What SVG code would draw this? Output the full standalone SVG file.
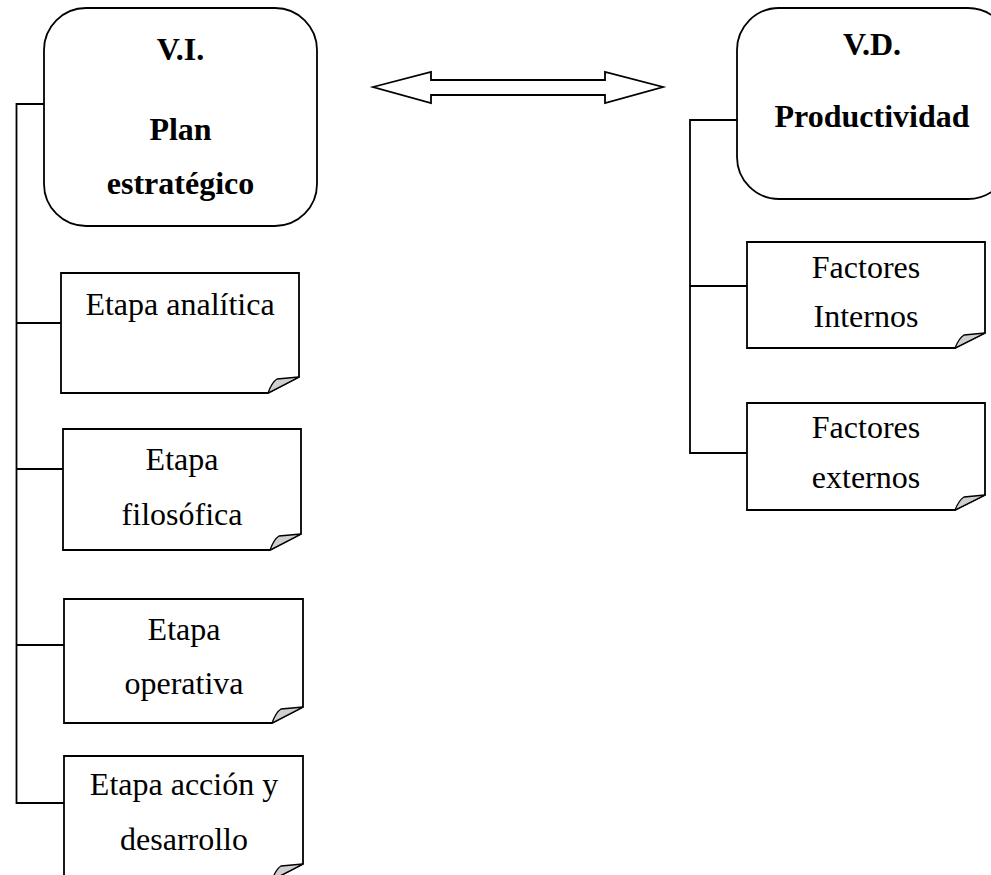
<svg xmlns="http://www.w3.org/2000/svg" width="991" height="875" viewBox="0 0 991 875">
<defs>
<style>
.box{fill:#fff;stroke:#000;stroke-width:1.8}
.flap{fill:#cfcfcf;stroke:#000;stroke-width:1.3;stroke-linejoin:round}
.ln{fill:none;stroke:#000;stroke-width:1.8}
.t{font-family:"Liberation Serif","Times New Roman",serif;font-size:32px;fill:#000;text-anchor:middle}
.b{font-weight:bold}
</style>
</defs>
<rect width="991" height="875" fill="#fff"/>
<g id="connectors">
<polyline class="ln" points="44,104 16.5,104 16.5,803 64,803"/>
<line class="ln" x1="16.5" y1="323" x2="61" y2="323"/>
<line class="ln" x1="16.5" y1="469" x2="63" y2="469"/>
<line class="ln" x1="16.5" y1="645" x2="64" y2="645"/>
<polyline class="ln" points="737,120 690,120 690,453 747,453"/>
<line class="ln" x1="690" y1="286" x2="747" y2="286"/>
<path id="double-arrow" class="box" d="M373,87 L431,72 L431,80 L605,80 L605,72 L663,87 L605,103 L605,95 L431,95 L431,103 Z"/>
</g>
<g id="vi">
<rect class="box" x="44" y="8" width="273" height="218" rx="42" ry="42"/>
<text class="t b" x="180.5" y="60">V.I.</text>
<text class="t b" x="180.5" y="140">Plan</text>
<text class="t b" x="180.5" y="194">estratégico</text>
</g>
<g id="vd">
<rect class="box" x="737" y="8" width="273" height="191" rx="42" ry="42"/>
<text class="t b" x="872" y="55">V.D.</text>
<text class="t b" x="872" y="127">Productividad</text>
</g>
<g id="etapa-analitica">
<path class="box" d="M61,273 H299 V377 L268,393 H61 Z"/>
<path class="flap" d="M268,393 Q272,382 277,379 L299,377 Z"/>
<text class="t" x="180" y="315">Etapa analítica</text>
</g>
<g id="etapa-filosofica">
<path class="box" d="M63,429 H301 V534 L270,550 H63 Z"/>
<path class="flap" d="M270,550 Q274,539 279,536 L301,534 Z"/>
<text class="t" x="182" y="470">Etapa</text>
<text class="t" x="182" y="525">filosófica</text>
</g>
<g id="etapa-operativa">
<path class="box" d="M64,599 H303 V707 L272,723 H64 Z"/>
<path class="flap" d="M272,723 Q276,712 281,709 L303,707 Z"/>
<text class="t" x="184" y="640">Etapa</text>
<text class="t" x="184" y="694">operativa</text>
</g>
<g id="etapa-accion">
<path class="box" d="M64,756 H303 V864 L272,880 H64 Z"/>
<path class="flap" d="M272,880 Q276,869 281,866 L303,864 Z"/>
<text class="t" x="184" y="795">Etapa acción y</text>
<text class="t" x="184" y="850">desarrollo</text>
</g>
<g id="factores-internos">
<path class="box" d="M747,242 H985 V333 L955,348 H747 Z"/>
<path class="flap" d="M955,348 Q959,338 964,335 L985,333 Z"/>
<text class="t" x="866" y="278">Factores</text>
<text class="t" x="866" y="327">Internos</text>
</g>
<g id="factores-externos">
<path class="box" d="M747,403 H985 V495 L955,510 H747 Z"/>
<path class="flap" d="M955,510 Q959,500 964,497 L985,495 Z"/>
<text class="t" x="866" y="438">Factores</text>
<text class="t" x="866" y="488">externos</text>
</g>
</svg>
